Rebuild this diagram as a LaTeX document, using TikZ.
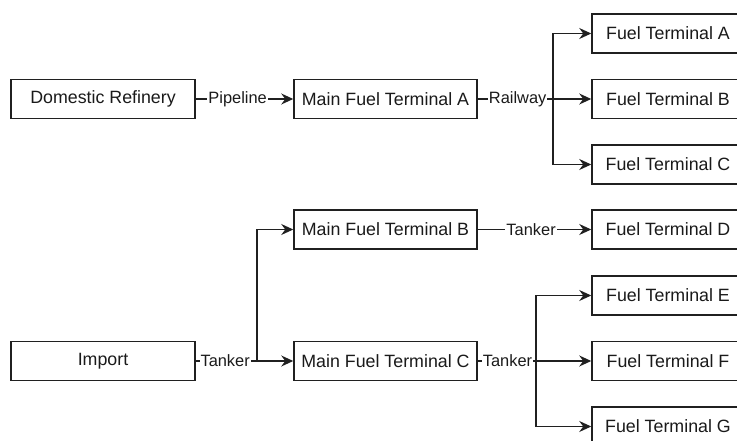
\documentclass[tikz,border=0pt]{standalone}
\usepackage{fontspec}
\setmainfont{Liberation Sans}
\usetikzlibrary{arrows.meta}
\definecolor{edge}{HTML}{202020}
\definecolor{txt}{HTML}{1A1A1A}
\begin{document}
\begin{tikzpicture}[x=1pt,y=-1pt,
  box/.style={draw=edge, line width=1.5pt, minimum height=39pt, inner sep=0pt, text=txt,
    font=\fontsize{17.8}{20}\selectfont},
  wbox/.style={box, minimum width=184pt},
  mbox/.style={box, minimum width=183pt},
  rbox/.style={box, minimum width=152pt},
  conn/.style={draw=edge, line width=1.4pt},
  arr/.style={conn, -{Stealth[length=12pt,width=11pt,inset=4pt]}},
  lbl/.style={fill=white, inner sep=1pt, text=txt, font=\fontsize{16.4}{18}\selectfont}]
\clip (0,0) rectangle (737,441);
\fill[white] (0,0) rectangle (737,441);
% nodes
\node[wbox] (ref) at (103,99) {Domestic Refinery};
\node[wbox] (imp) at (103,361) {Import};
\node[mbox] (ma) at (385.5,99) {Main Fuel Terminal A};
\node[mbox] (mb) at (385.5,229.5) {Main Fuel Terminal B};
\node[mbox] (mc) at (385.5,361) {Main Fuel Terminal C};
\node[rbox] (fa) at (668,33.5) {Fuel Terminal A};
\node[rbox] (fb) at (668,99) {Fuel Terminal B};
\node[rbox] (fc) at (668,164.5) {Fuel Terminal C};
\node[rbox] (fd) at (668,229.5) {Fuel Terminal D};
\node[rbox] (fe) at (668,295.5) {Fuel Terminal E};
\node[rbox] (ff) at (668,361) {Fuel Terminal F};
\node[rbox] (fg) at (668,426.5) {Fuel Terminal G};
% branch points
\coordinate (ra) at (553,99);
\coordinate (ti) at (257,361);
\coordinate (tc) at (536,361);
% connectors
\draw[arr] (ref) -- node[lbl,pos=0.43]{Pipeline} (ma);
\draw[conn] (ma.east) -- (ra);
\draw[arr] (ra) |- (fa.west);
\draw[arr] (ra) -- (fb.west);
\draw[arr] (ra) |- (fc.west);
\path (ma.east) -- node[lbl,pos=0.53]{Railway} (ra);
\draw[arr] (mb) -- node[lbl,pos=0.47]{Tanker} (fd);
\draw[conn] (imp.east) -- (ti);
\draw[arr] (ti) |- (mb.west);
\draw[arr] (ti) -- (mc.west);
\path (imp.east) -- node[lbl,pos=0.48]{Tanker} (ti);
\draw[conn] (mc.east) -- (tc);
\draw[arr] (tc) |- (fe.west);
\draw[arr] (tc) -- (ff.west);
\draw[arr] (tc) |- (fg.west);
\path (mc.east) -- node[lbl,pos=0.51]{Tanker} (tc);
\end{tikzpicture}
\end{document}
